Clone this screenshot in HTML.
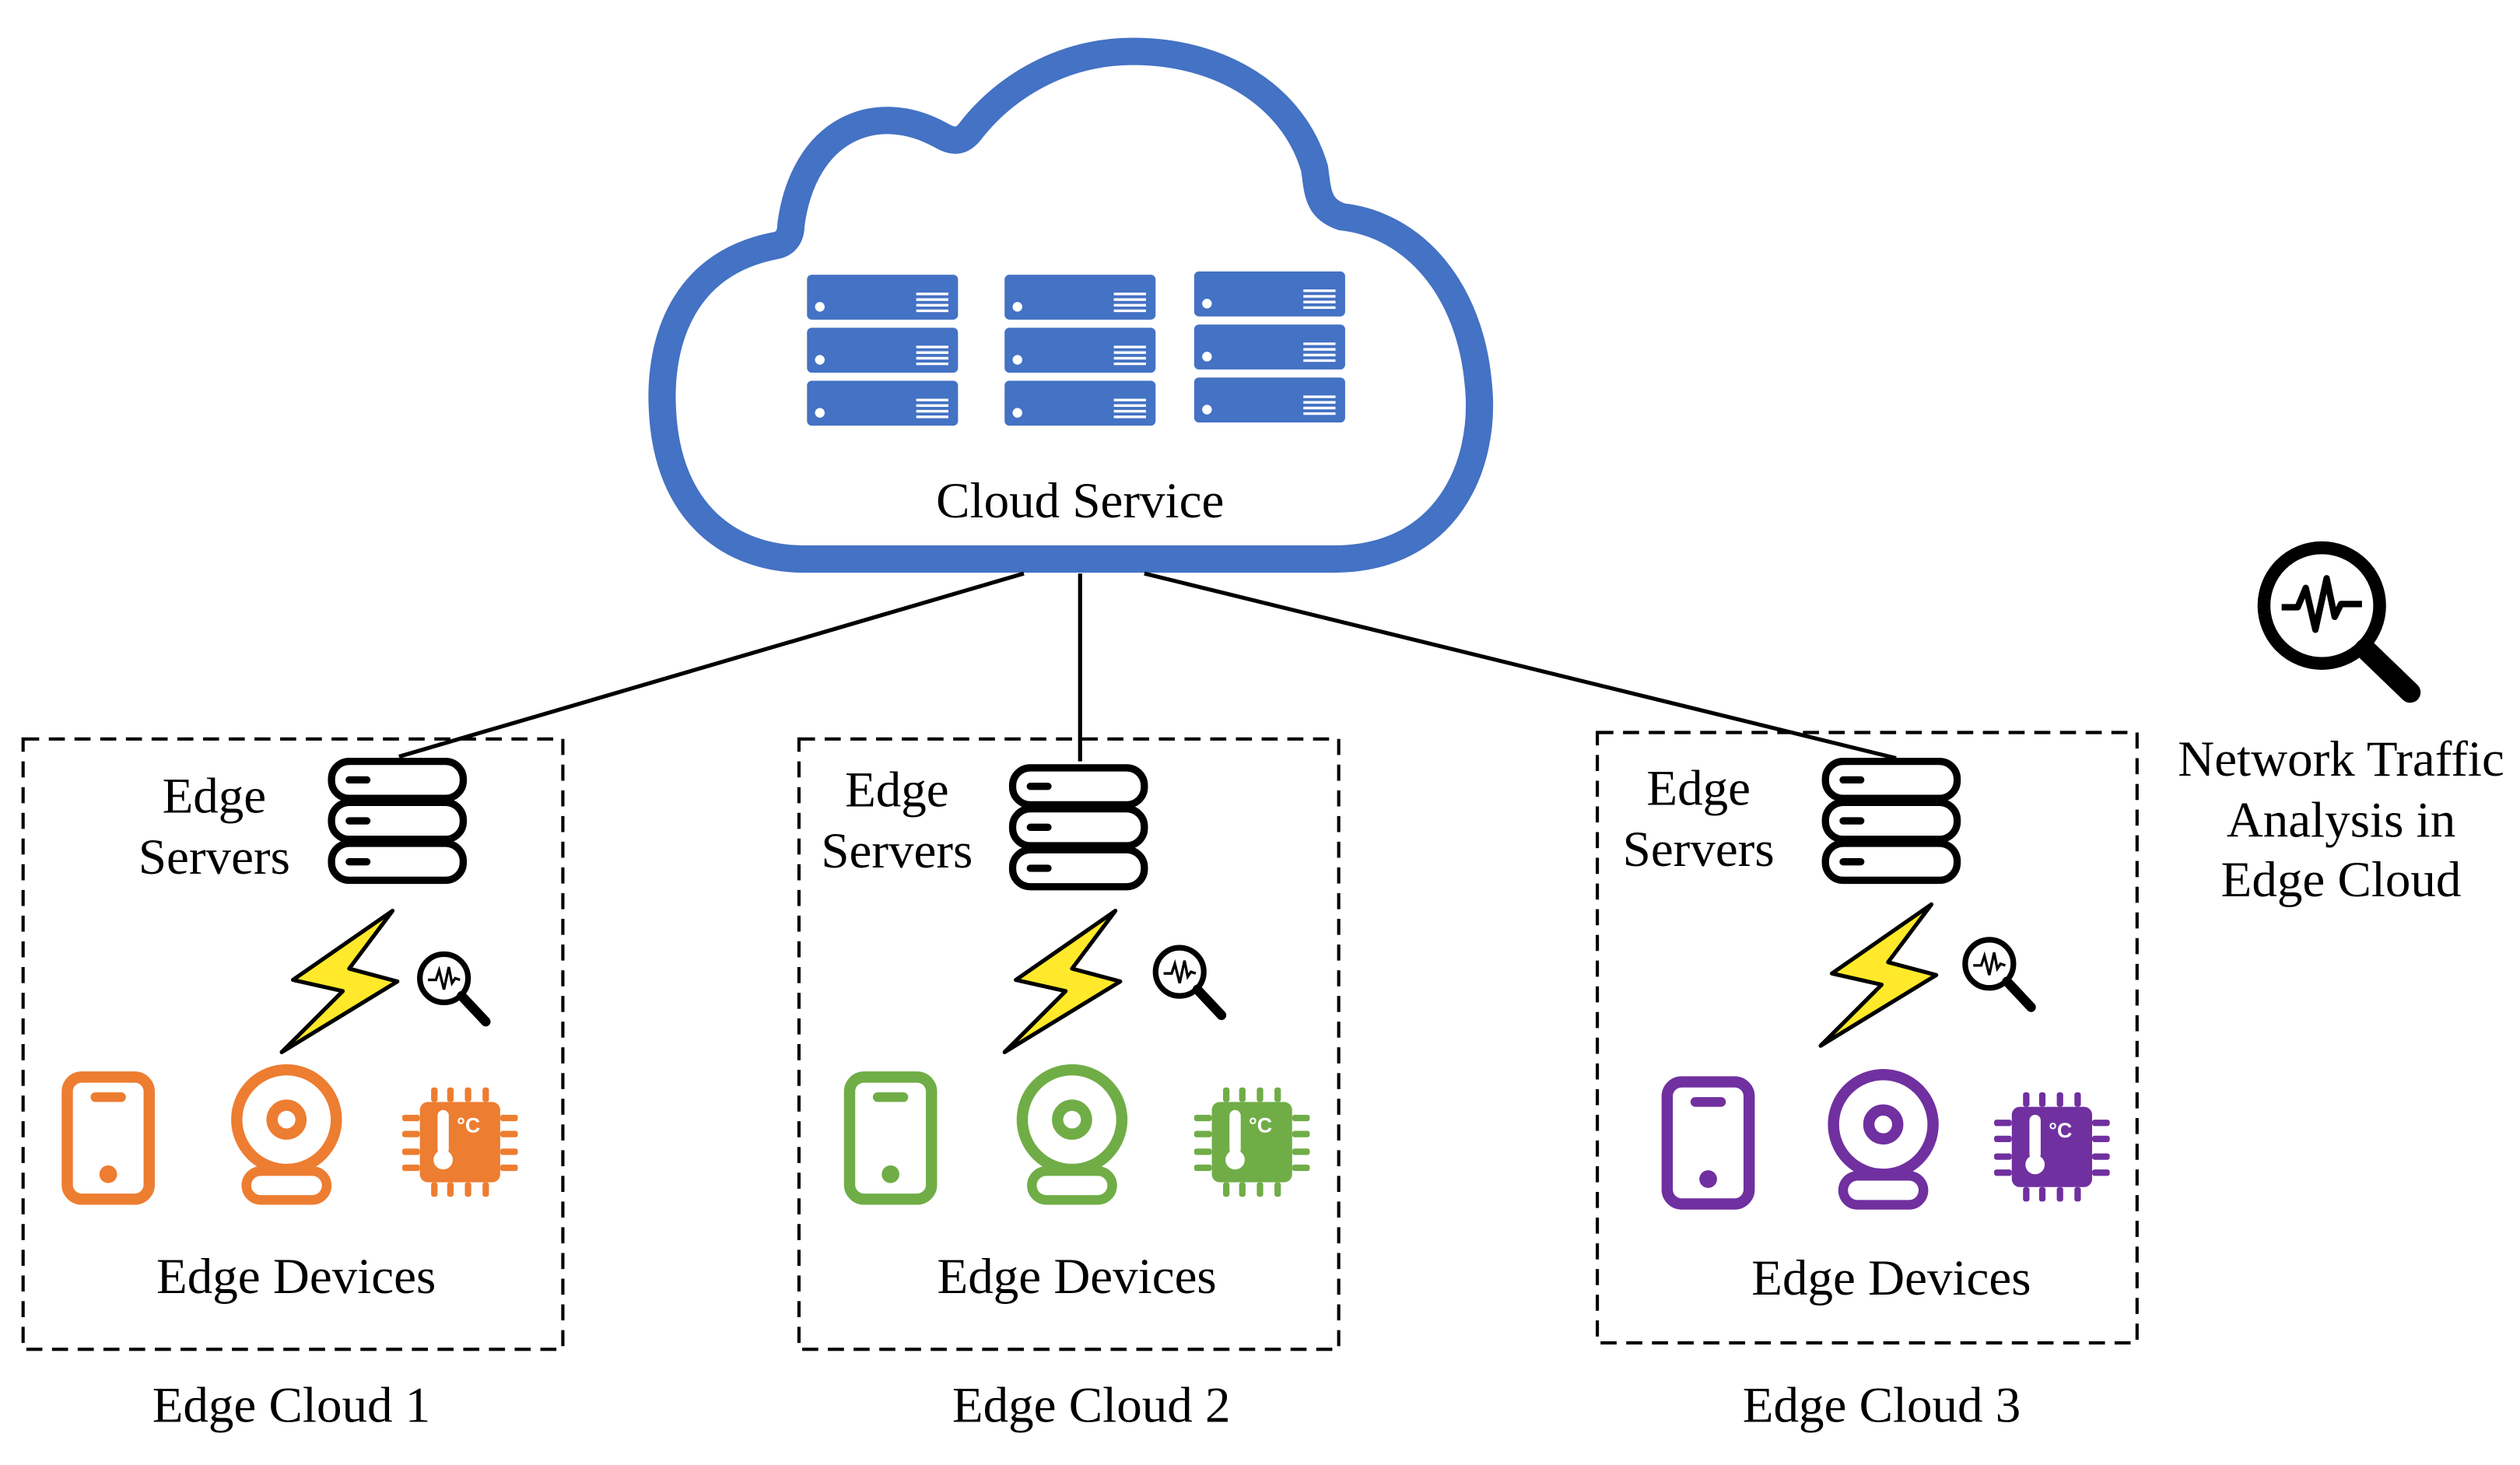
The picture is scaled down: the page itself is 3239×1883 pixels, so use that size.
<!DOCTYPE html>
<html><head><meta charset="utf-8"><style>
html,body{margin:0;padding:0;background:#fff;}
svg{display:block;}
text.t{font-family:"Liberation Serif",serif;fill:#000;}
</style></head><body>
<svg width="3239" height="1883" viewBox="0 0 1568 912" xmlns="http://www.w3.org/2000/svg">
<defs>
<g id="cs">
<rect x="0" y="0" width="94" height="28" rx="3" fill="#4472C4"/>
<circle cx="8" cy="20" r="3" fill="#fff"/>
<g stroke="#fff" stroke-width="1.6"><line x1="68" y1="12" x2="88" y2="12"/><line x1="68" y1="15.5" x2="88" y2="15.5"/><line x1="68" y1="19" x2="88" y2="19"/><line x1="68" y1="22.5" x2="88" y2="22.5"/></g>
</g>
<g id="col"><use href="#cs" y="0"/><use href="#cs" y="33"/><use href="#cs" y="66"/></g>
<g id="es" fill="none" stroke="#000" stroke-width="4.5" stroke-linecap="round">
<rect x="2" y="2" width="82" height="23" rx="11"/>
<rect x="2" y="27.5" width="82" height="23" rx="11"/>
<rect x="2" y="53" width="82" height="23" rx="11"/>
<line x1="13" y1="13.5" x2="24" y2="13.5"/><line x1="13" y1="39" x2="24" y2="39"/><line x1="13" y1="64.5" x2="24" y2="64.5"/>
</g>
<g id="bolt"><polygon points="69,0 7,43 38,50 0,88 72,44 42,36" fill="#FFE92A" stroke="#000" stroke-width="2.5" stroke-linejoin="round"/></g>
<g id="mag">
<circle cx="0" cy="0" r="15" fill="none" stroke="#000" stroke-width="3.5"/>
<line x1="11" y1="11" x2="26" y2="27" stroke="#000" stroke-width="6" stroke-linecap="round"/>
<polyline points="-10,1 -5,1 -3,-5 0,7 3,-7 5,3 7,0 10,1" fill="none" stroke="#000" stroke-width="1.6"/>
</g>
<g id="phone">
<rect x="3.5" y="3.5" width="51" height="76" rx="9" fill="none" stroke-width="7"/>
<line x1="21" y1="16" x2="37" y2="16" stroke-width="6" stroke-linecap="round"/>
<circle cx="29" cy="64" r="5.5" stroke="none"/>
</g>
<g id="cam">
<circle cx="0" cy="0" r="31" fill="none" stroke-width="7"/>
<circle cx="0" cy="0" r="9" fill="none" stroke-width="7"/>
<rect x="-25" y="32" width="50" height="18" rx="9" fill="none" stroke-width="6"/>
</g>
<g id="chip">
<rect x="11" y="9" width="50" height="50" rx="5" stroke="none"/>
<g stroke="none">
<rect x="18" y="0" width="4" height="9" rx="1.5"/><rect x="28" y="0" width="4" height="9" rx="1.5"/><rect x="39" y="0" width="4" height="9" rx="1.5"/><rect x="50" y="0" width="4" height="9" rx="1.5"/>
<rect x="18" y="59" width="4" height="9" rx="1.5"/><rect x="28" y="59" width="4" height="9" rx="1.5"/><rect x="39" y="59" width="4" height="9" rx="1.5"/><rect x="50" y="59" width="4" height="9" rx="1.5"/>
<rect x="0" y="17" width="11" height="4" rx="1.5"/><rect x="0" y="27" width="11" height="4" rx="1.5"/><rect x="0" y="38" width="11" height="4" rx="1.5"/><rect x="0" y="48" width="11" height="4" rx="1.5"/>
<rect x="61" y="17" width="11" height="4" rx="1.5"/><rect x="61" y="27" width="11" height="4" rx="1.5"/><rect x="61" y="38" width="11" height="4" rx="1.5"/><rect x="61" y="48" width="11" height="4" rx="1.5"/>
</g>
<rect x="22" y="14" width="7" height="28" rx="3.5" fill="#fff" stroke="none"/>
<circle cx="25.5" cy="45" r="6" fill="#fff" stroke="none"/>
<text x="34" y="28" font-family="Liberation Sans,sans-serif" font-weight="bold" font-size="13" fill="#fff" stroke="none">°C</text>
</g>
</defs>

<path d="M500,348 L830,348 C900,348 925,290 920,240 C915,180 880,140 835,135 C820,130 820,120 818,105 C805,60 760,32 705,32 C660,32 625,55 605,80 C598,90 592,88 585,84 C545,62 500,80 492,140 C492,148 488,152 482,153 C420,165 410,220 412,255 C415,320 455,348 500,348 Z" fill="none" stroke="#4472C4" stroke-width="17" stroke-linejoin="round"/>
<use href="#col" x="502" y="171"/>
<use href="#col" x="625" y="171"/>
<use href="#col" x="743" y="169"/>
<text class="t" x="672" y="322" font-size="31.5" text-anchor="middle">Cloud Service</text>

<g stroke="#000" stroke-width="2.5">
<line x1="637" y1="357" x2="248" y2="471"/>
<line x1="672" y1="357" x2="672" y2="474"/>
<line x1="712" y1="357" x2="1180" y2="472"/>
</g>

<g fill="none" stroke="#000" stroke-width="2" stroke-dasharray="10,6">
<rect x="14" y="460" width="336" height="380"/>
<rect x="497" y="460" width="336" height="380"/>
<rect x="994" y="456" width="336" height="380"/>
</g>

<use href="#es" x="204" y="472"/>
<text class="t" x="133" y="506" font-size="31.5" text-anchor="middle">Edge</text>
<text class="t" x="133" y="544" font-size="31.5" text-anchor="middle">Servers</text>
<use href="#bolt" x="175" y="567"/>
<use href="#mag" x="276" y="609"/>
<g fill="#ED7D31" stroke="#ED7D31"><use href="#phone" x="38" y="667"/><use href="#cam" x="178" y="697"/><use href="#chip" x="250" y="677"/></g>
<text class="t" x="184" y="805" font-size="31.5" text-anchor="middle">Edge Devices</text>
<text class="t" x="181" y="885" font-size="31.5" text-anchor="middle">Edge Cloud 1</text>

<use href="#es" x="628" y="476"/>
<text class="t" x="558" y="502" font-size="31.5" text-anchor="middle">Edge</text>
<text class="t" x="558" y="540" font-size="31.5" text-anchor="middle">Servers</text>
<use href="#bolt" x="625" y="567"/>
<use href="#mag" x="734" y="605"/>
<g fill="#70AD47" stroke="#70AD47"><use href="#phone" x="525" y="667"/><use href="#cam" x="667" y="697"/><use href="#chip" x="743" y="677"/></g>
<text class="t" x="670" y="805" font-size="31.5" text-anchor="middle">Edge Devices</text>
<text class="t" x="679" y="885" font-size="31.5" text-anchor="middle">Edge Cloud 2</text>

<use href="#es" x="1134" y="472"/>
<text class="t" x="1057" y="501" font-size="31.5" text-anchor="middle">Edge</text>
<text class="t" x="1057" y="539" font-size="31.5" text-anchor="middle">Servers</text>
<use href="#bolt" x="1133" y="563"/>
<use href="#mag" x="1238" y="600"/>
<g fill="#7030A0" stroke="#7030A0"><use href="#phone" x="1034" y="670"/><use href="#cam" x="1172" y="700"/><use href="#chip" x="1241" y="680"/></g>
<text class="t" x="1177" y="806" font-size="31.5" text-anchor="middle">Edge Devices</text>
<text class="t" x="1171" y="885" font-size="31.5" text-anchor="middle">Edge Cloud 3</text>

<g>
<circle cx="1445" cy="377" r="36" fill="none" stroke="#000" stroke-width="8"/>
<line x1="1472" y1="404" x2="1500" y2="431" stroke="#000" stroke-width="13" stroke-linecap="round"/>
<polyline points="1420,378 1430,378 1435,366 1441,392 1448,360 1453,384 1457,376 1470,376" fill="none" stroke="#000" stroke-width="4" stroke-linejoin="round"/>
</g>
<text class="t" x="1457" y="483" font-size="31.5" text-anchor="middle">Network Traffic</text>
<text class="t" x="1457" y="521" font-size="31.5" text-anchor="middle">Analysis in</text>
<text class="t" x="1457" y="558" font-size="31.5" text-anchor="middle">Edge Cloud</text>
</svg>
</body></html>
